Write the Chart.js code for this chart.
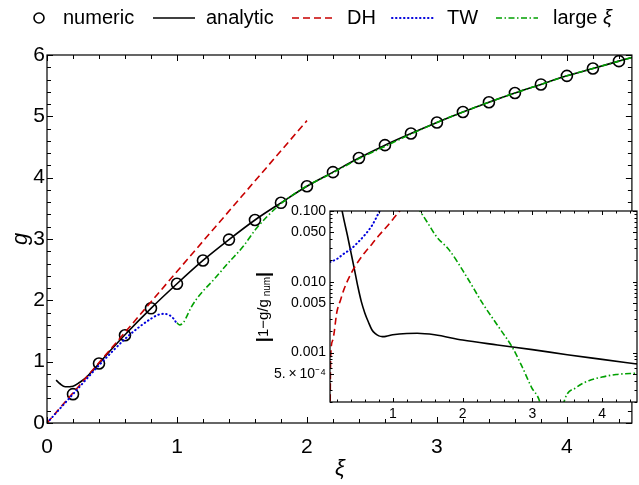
<!DOCTYPE html>
<html>
<head>
<meta charset="utf-8">
<script src="https://cdn.jsdelivr.net/npm/chart.js@4.4.1/dist/chart.umd.min.js"></script>
<style>
  html, body { margin: 0; padding: 0; background: #fff; }
  #wrap { position: relative; width: 639px; height: 485px; }
  #main { position: absolute; left: 0; top: 0; }
  #inset { position: absolute; left: 250px; top: 195px; }
</style>
</head>
<body>
<div id="wrap">
  <canvas id="main" width="639" height="485"></canvas>
  <canvas id="inset" width="389" height="240"></canvas>
</div>
<script>
// ================= DATA : main panel, g(xi) =================
const numXi = [0.2, 0.4, 0.6, 0.8, 1.0, 1.2, 1.4, 1.6, 1.8, 2.0, 2.2, 2.4, 2.6, 2.8, 3.0, 3.2, 3.4, 3.6, 3.8, 4.0, 4.2, 4.4];
const numG  = [0.47, 0.97, 1.43, 1.87, 2.27, 2.65, 2.99, 3.31, 3.59, 3.86, 4.09, 4.32, 4.53, 4.72, 4.90, 5.07, 5.23, 5.38, 5.52, 5.66, 5.78, 5.90];

const anaXi = [0.07, 0.1, 0.14, 0.2, 0.25, 0.3, 0.35, 0.4, 0.5, 0.6, 0.8, 1.0, 1.2, 1.4, 1.6, 1.8, 2.0, 2.2, 2.4, 2.6, 2.8, 3.0, 3.2, 3.4, 3.6, 3.8, 4.0, 4.2, 4.4, 4.5];
const anaG  = [0.70, 0.64, 0.59, 0.60, 0.66, 0.74, 0.85, 0.97, 1.21, 1.44, 1.87, 2.27, 2.65, 2.99, 3.31, 3.59, 3.86, 4.09, 4.32, 4.53, 4.72, 4.90, 5.07, 5.23, 5.38, 5.52, 5.66, 5.78, 5.90, 5.96];

const dhXi = [0, 0.5, 1.0, 1.5, 2.0];
const dhG  = [0, 1.23, 2.47, 3.70, 4.93];

const twXi = [0, 0.2, 0.4, 0.5, 0.6, 0.7, 0.8, 0.85, 0.9, 0.94, 0.97, 0.99, 1.0];
const twG  = [0, 0.47, 0.94, 1.16, 1.37, 1.55, 1.70, 1.76, 1.78, 1.76, 1.71, 1.65, 1.61];

const bigXi = [1.0, 1.02, 1.05, 1.08, 1.11, 1.15, 1.2, 1.28, 1.39, 1.51, 1.61, 1.78, 1.98, 2.19, 2.4, 2.6, 2.8, 3.0, 3.2, 3.4, 3.6, 3.8, 4.0, 4.2, 4.4, 4.5];
const bigG  = [1.63, 1.60, 1.64, 1.76, 1.89, 2.02, 2.15, 2.33, 2.60, 2.88, 3.17, 3.54, 3.84, 4.07, 4.31, 4.51, 4.71, 4.90, 5.07, 5.23, 5.38, 5.52, 5.66, 5.78, 5.90, 5.96];

const mainXTicks = [0, 1, 2, 3, 4];
const mainYTicks = [0, 1, 2, 3, 4, 5, 6];

// ================= DATA : inset, |1 - g/g_num| =================
const errAnaXi = [0.25, 0.3, 0.35, 0.4, 0.45, 0.5, 0.55, 0.6, 0.65, 0.7, 0.75, 0.8, 0.85, 0.9, 1.0, 1.2, 1.35, 1.6, 2.0, 2.5, 3.0, 3.5, 4.0, 4.5];
const errAna   = [0.13, 0.075, 0.045, 0.026, 0.015, 0.0085, 0.0052, 0.0036, 0.0027, 0.0021, 0.00185, 0.00172, 0.00168, 0.00169, 0.00178, 0.00186, 0.00187, 0.00178, 0.0015, 0.00128, 0.0011, 0.00093, 0.0008, 0.00069];

const errDhXi = [0.1, 0.11, 0.14, 0.2, 0.25, 0.3, 0.4, 0.5, 0.6, 0.7, 0.8, 0.9, 1.0, 1.1, 1.15];
const errDh   = [0.0001, 0.0009, 0.0015, 0.0038, 0.0055, 0.0078, 0.013, 0.019, 0.026, 0.034, 0.045, 0.058, 0.076, 0.1, 0.112];

const errTwXi = [0.1, 0.2, 0.3, 0.4, 0.5, 0.6, 0.7, 0.8, 0.85];
const errTw   = [0.019, 0.021, 0.025, 0.029, 0.036, 0.046, 0.062, 0.095, 0.12];

const errBigXi = [1.35, 1.39, 1.5, 1.63, 1.81, 2.06, 2.29, 2.53, 2.71, 2.86, 2.99, 3.1, 3.2, 3.29, 3.38, 3.46, 3.63, 3.81, 4.0, 4.2, 4.5];
const errBig   = [0.115, 0.1, 0.068, 0.043, 0.028, 0.0117, 0.0049, 0.0022, 0.0012, 0.00061, 0.00032, 0.00021, 0.00008, null, 0.00008, 0.00021, 0.00032, 0.0004, 0.00045, 0.00049, 0.00051];

const insetXTicks = [1, 2, 3, 4];
const insetYTicks = [0.0005, 0.001, 0.005, 0.01, 0.05, 0.1];
const insetYLabels = ['5.\u2009\u00d7\u200910\u207b\u2074', '0.001', '0.005', '0.010', '0.050', '0.100'];

// ================= HELPERS =================
const FONT = '"Liberation Sans", Arial, sans-serif';
const RED = '#c80000';
const BLUE = '#0000dc';
const GREEN = '#00a000';
const pts = (xs, ys) => xs.map((x, i) => ({ x: x, y: ys[i] }));

function lineSet(label, xs, ys, color, dash, width, order, cap) {
  return {
    label: label,
    data: pts(xs, ys),
    borderColor: color,
    borderWidth: width,
    borderDash: dash,
    borderCapStyle: cap || 'butt',
    borderJoinStyle: 'round',
    cubicInterpolationMode: 'monotone',
    pointRadius: 0,
    pointHoverRadius: 0,
    spanGaps: false,
    fill: false,
    order: order
  };
}

// inside ticks list: [value, isMajor]
function tickList(from, to, step, majorEvery) {
  const out = [];
  const n = Math.round((to - from) / step);
  for (let i = 0; i <= n; i++) {
    const v = +(from + i * step).toFixed(6);
    out.push([v, Math.abs(v / majorEvery - Math.round(v / majorEvery)) < 1e-6]);
  }
  return out;
}
function logTickList(min, max) {
  const out = [];
  for (let d = -4; d <= -1; d++) {
    for (let k = 1; k <= 9; k++) {
      const v = k * Math.pow(10, d);
      if (v >= min * 0.999 && v <= max * 1.001) out.push([v, k === 1 || k === 5]);
    }
  }
  return out;
}

// ================= PLUGINS =================
const frameTicks = {
  id: 'frameTicks',
  afterDatasetsDraw(chart, args, o) {
    const { ctx, chartArea: a } = chart;
    const x = chart.scales.x, y = chart.scales.y;
    ctx.save();
    ctx.strokeStyle = '#000';
    ctx.lineWidth = 1;
    ctx.beginPath();
    o.xTicks.forEach(([v, major]) => {
      const px = Math.round(x.getPixelForValue(v)) + 0.5;
      const len = major ? o.major : o.minor;
      ctx.moveTo(px, a.bottom); ctx.lineTo(px, a.bottom - len);
      ctx.moveTo(px, a.top); ctx.lineTo(px, a.top + len);
    });
    o.yTicks.forEach(([v, major]) => {
      const py = Math.round(y.getPixelForValue(v)) + 0.5;
      const len = major ? o.major : o.minor;
      ctx.moveTo(a.left, py); ctx.lineTo(a.left + len, py);
      ctx.moveTo(a.right, py); ctx.lineTo(a.right - len, py);
    });
    ctx.stroke();
    ctx.lineWidth = o.frame;
    ctx.strokeRect(a.left, a.top, a.right - a.left, a.bottom - a.top);
    ctx.restore();
  }
};

const whiteArea = {
  id: 'whiteArea',
  beforeDatasetsDraw(chart) {
    const { ctx, chartArea: a } = chart;
    ctx.save();
    ctx.fillStyle = '#fff';
    ctx.fillRect(a.left, a.top, a.right - a.left, a.bottom - a.top);
    ctx.restore();
  }
};

const legendRow = {
  id: 'legendRow',
  afterDraw(chart, args, o) {
    const ctx = chart.ctx;
    ctx.save();
    chart.data.datasets.forEach((ds, i) => {
      const [mx, tx] = o.spots[i];
      const y = o.y;
      if (ds.showLine === false) {
        ctx.strokeStyle = ds.pointBorderColor;
        ctx.lineWidth = ds.pointBorderWidth;
        ctx.setLineDash([]);
        ctx.beginPath();
        ctx.arc(mx + 6, y, 5, 0, 2 * Math.PI);
        ctx.stroke();
      } else {
        ctx.strokeStyle = ds.borderColor;
        ctx.lineWidth = ds.borderWidth;
        ctx.lineCap = ds.borderCapStyle;
        ctx.setLineDash(ds.borderDash);
        ctx.beginPath();
        ctx.moveTo(mx, y); ctx.lineTo(mx + o.len, y);
        ctx.stroke();
      }
      ctx.setLineDash([]);
      ctx.fillStyle = '#000';
      ctx.textBaseline = 'middle';
      ctx.textAlign = 'left';
      ctx.font = '20px ' + FONT;
      if (ds.label.endsWith('\u03be')) {
        const head = ds.label.slice(0, -1);
        ctx.fillText(head, tx, y);
        const w = ctx.measureText(head).width;
        ctx.font = 'italic 20px ' + FONT;
        ctx.fillText('\u03be', tx + w, y);
      } else {
        ctx.fillText(ds.label, tx, y);
      }
    });
    ctx.restore();
  }
};

const mainTitles = {
  id: 'mainTitles',
  afterDraw(chart) {
    const ctx = chart.ctx;
    ctx.save();
    ctx.fillStyle = '#000';
    ctx.textAlign = 'center';
    ctx.textBaseline = 'middle';
    ctx.font = 'italic 22px ' + FONT;
    ctx.fillText('\u03be', 340, 469);
    ctx.translate(21, 239);
    ctx.rotate(-Math.PI / 2);
    ctx.fillText('g', 0, 0);
    ctx.restore();
  }
};

const insetTitle = {
  id: 'insetTitle',
  afterDraw(chart) {
    const ctx = chart.ctx;
    const parts = [
      ['|', 'bold 18px ' + FONT, 0],
      ['1\u2212g/g', '15px ' + FONT, 0],
      [' num', '10px ' + FONT, 3],
      ['|', 'bold 18px ' + FONT, 0]
    ];
    ctx.save();
    ctx.fillStyle = '#000';
    ctx.textBaseline = 'middle';
    ctx.textAlign = 'left';
    let total = 0;
    parts.forEach(p => { ctx.font = p[1]; total += ctx.measureText(p[0]).width; });
    ctx.translate(14, 112);
    ctx.rotate(-Math.PI / 2);
    let cx = -total / 2;
    parts.forEach(p => {
      ctx.font = p[1];
      ctx.fillText(p[0], cx, p[2]);
      cx += ctx.measureText(p[0]).width;
    });
    ctx.restore();
  }
};

// ================= MAIN CHART =================
const mainChart = new Chart(document.getElementById('main'), {
  type: 'line',
  data: {
    datasets: [
      {
        label: 'numeric',
        data: pts(numXi, numG),
        showLine: false,
        pointStyle: 'circle',
        pointRadius: 5.5,
        pointHoverRadius: 5.5,
        pointBorderWidth: 1.6,
        pointBorderColor: '#000',
        pointBackgroundColor: 'rgba(0,0,0,0)',
        order: 5
      },
      lineSet('analytic', anaXi, anaG, '#000', [], 1.6, 4),
      lineSet('DH', dhXi, dhG, RED, [7, 4], 1.6, 3),
      lineSet('TW', twXi, twG, BLUE, [0.5, 3.5], 2, 2, 'round'),
      lineSet('large \u03be', bigXi, bigG, GREEN, [6, 2.5, 1.5, 2.5], 1.6, 1)
    ]
  },
  options: {
    responsive: false,
    animation: false,
    events: [],
    layout: { padding: { top: 55, right: 1, left: 0, bottom: 0 } },
    plugins: {
      legend: { display: false },
      tooltip: { enabled: false },
      frameTicks: {
        xTicks: tickList(0, 4.4, 0.2, 1),
        yTicks: tickList(0, 6, 0.2, 1),
        major: 6, minor: 4, frame: 1.2
      },
      legendRow: {
        y: 18, len: 42,
        spots: [[33, 63], [153, 206], [292, 347], [392, 447], [496, 553]]
      }
    },
    scales: {
      x: {
        type: 'linear', min: 0, max: 4.5,
        afterFit: s => { s.height = 62; },
        afterBuildTicks: s => { s.ticks = mainXTicks.map(v => ({ value: v })); },
        grid: { display: false, drawTicks: false },
        border: { display: false },
        ticks: { color: '#000', font: { family: FONT, size: 21 }, padding: 12, maxRotation: 0, autoSkip: false }
      },
      y: {
        type: 'linear', min: 0, max: 6,
        afterFit: s => { s.width = 47; },
        afterBuildTicks: s => { s.ticks = mainYTicks.map(v => ({ value: v })); },
        grid: { display: false, drawTicks: false },
        border: { display: false },
        ticks: { color: '#000', font: { family: FONT, size: 21 }, padding: 2, autoSkip: false }
      }
    }
  },
  plugins: [frameTicks, legendRow, mainTitles]
});

// ================= INSET CHART =================
const insetChart = new Chart(document.getElementById('inset'), {
  type: 'line',
  data: {
    datasets: [
      lineSet('analytic', errAnaXi, errAna, '#000', [], 1.6, 4),
      lineSet('DH', errDhXi, errDh, RED, [7, 4], 1.6, 3),
      lineSet('TW', errTwXi, errTw, BLUE, [0.5, 3.5], 2, 2, 'round'),
      lineSet('large \u03be', errBigXi, errBig, GREEN, [6, 2.5, 1.5, 2.5], 1.6, 1)
    ]
  },
  options: {
    responsive: false,
    animation: false,
    events: [],
    layout: { padding: { top: 16, right: 2, left: 0, bottom: 0 } },
    plugins: {
      legend: { display: false },
      tooltip: { enabled: false },
      frameTicks: {
        xTicks: tickList(0.2, 4.4, 0.2, 1),
        yTicks: logTickList(0.0002, 0.1),
        major: 4, minor: 2.5, frame: 1.2
      }
    },
    scales: {
      x: {
        type: 'linear', min: 0.1, max: 4.5,
        afterFit: s => { s.height = 33; },
        afterBuildTicks: s => { s.ticks = insetXTicks.map(v => ({ value: v })); },
        grid: { display: false, drawTicks: false },
        border: { display: false },
        ticks: { color: '#000', font: { family: FONT, size: 14 }, padding: 4, maxRotation: 0, autoSkip: false }
      },
      y: {
        type: 'logarithmic', min: 0.0002, max: 0.1,
        afterFit: s => { s.width = 80; },
        afterBuildTicks: s => { s.ticks = insetYTicks.map(v => ({ value: v })); },
        grid: { display: false, drawTicks: false },
        border: { display: false },
        ticks: {
          color: '#000', font: { family: FONT, size: 14 }, padding: 4, autoSkip: false,
          callback: v => insetYLabels[insetYTicks.indexOf(v)]
        }
      }
    }
  },
  plugins: [whiteArea, frameTicks, insetTitle]
});
</script>
</body>
</html>
